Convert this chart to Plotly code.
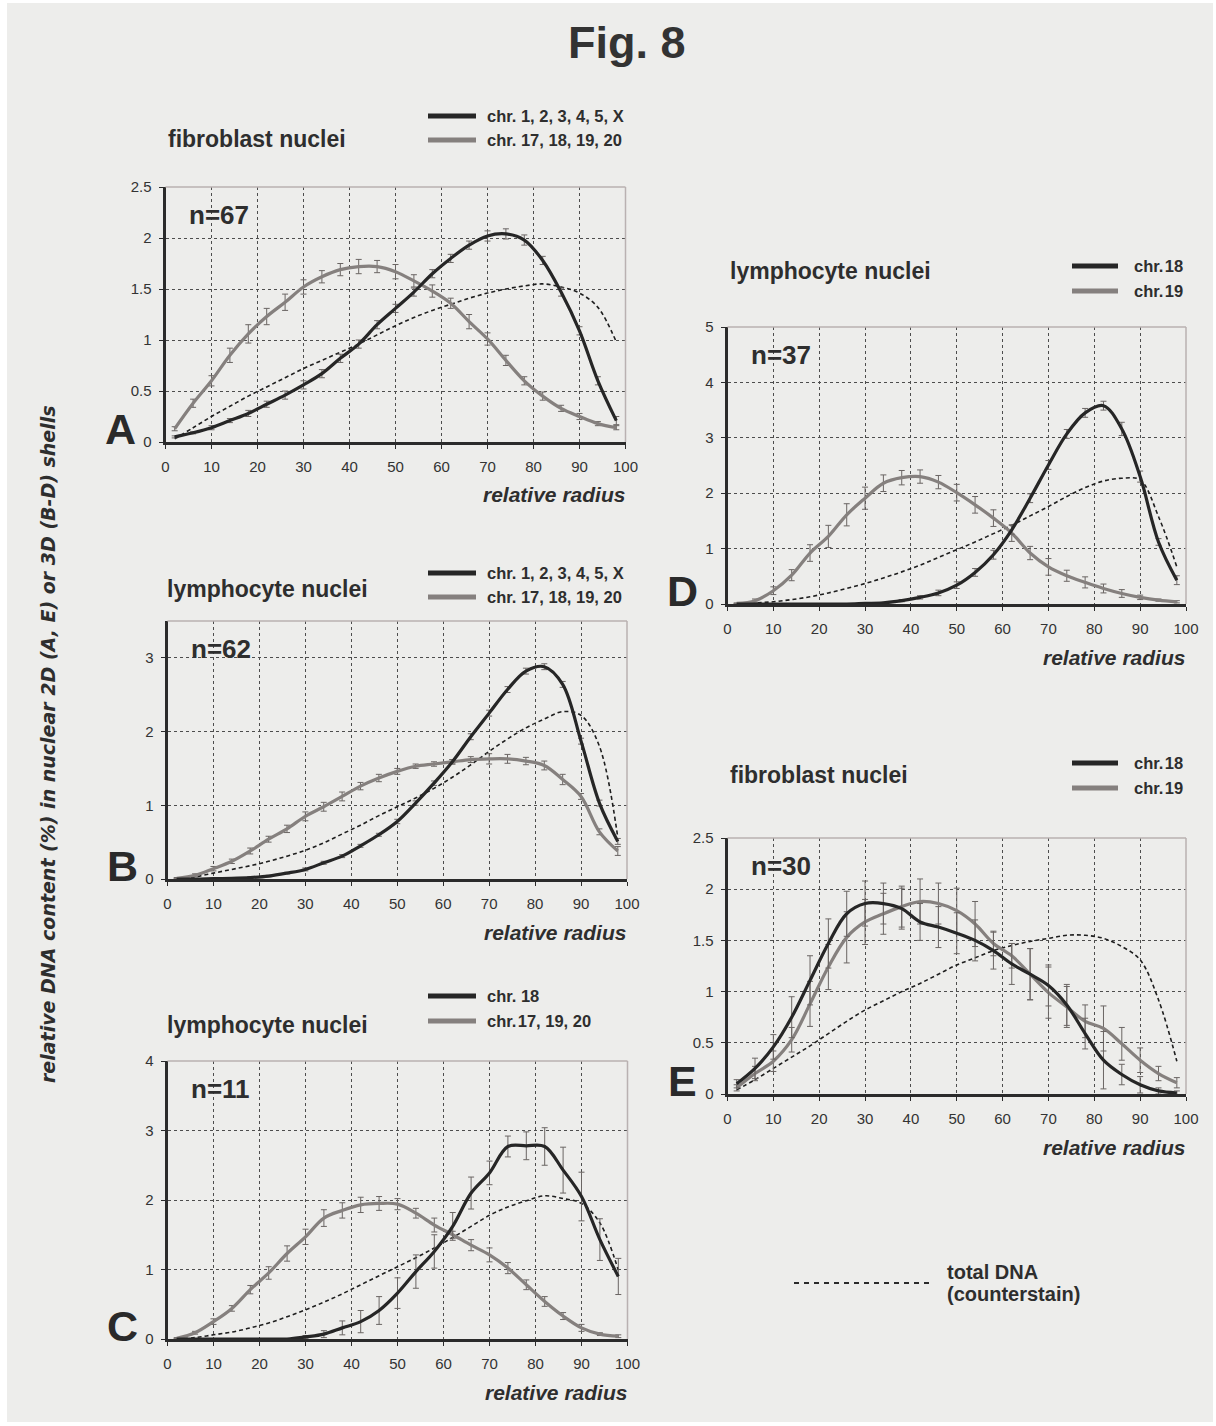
import plotly.graph_objects as go

# ---------------- data ----------------
radius = [2, 6, 10, 14, 18, 22, 26, 30, 34, 38, 42, 46, 50, 54, 58, 62, 66, 70, 74, 78, 82, 86, 90, 94, 98]
x_ticks = [0, 10, 20, 30, 40, 50, 60, 70, 80, 90, 100]

# A: fibroblast nuclei (2D)
A_black = [0.05, 0.09, 0.14, 0.21, 0.28, 0.37, 0.46, 0.56, 0.67, 0.82, 0.96, 1.15, 1.31, 1.47, 1.65, 1.80, 1.93, 2.02, 2.04, 1.98, 1.78, 1.47, 1.09, 0.60, 0.21]
A_black_err = [0.01, 0.01, 0.02, 0.02, 0.03, 0.03, 0.04, 0.04, 0.04, 0.04, 0.04, 0.04, 0.04, 0.04, 0.04, 0.04, 0.04, 0.05, 0.05, 0.05, 0.04, 0.04, 0.04, 0.04, 0.04]
A_gray = [0.13, 0.38, 0.60, 0.85, 1.06, 1.23, 1.37, 1.52, 1.62, 1.69, 1.72, 1.72, 1.67, 1.58, 1.48, 1.36, 1.18, 1.01, 0.80, 0.60, 0.45, 0.33, 0.25, 0.18, 0.14]
A_gray_err = [0.02, 0.04, 0.05, 0.07, 0.09, 0.08, 0.08, 0.07, 0.06, 0.06, 0.07, 0.06, 0.07, 0.06, 0.06, 0.05, 0.07, 0.06, 0.05, 0.04, 0.04, 0.03, 0.03, 0.02, 0.02]
A_total = [0.03, 0.14, 0.25, 0.35, 0.45, 0.54, 0.63, 0.72, 0.80, 0.88, 0.96, 1.05, 1.14, 1.22, 1.29, 1.35, 1.41, 1.46, 1.50, 1.53, 1.55, 1.52, 1.46, 1.32, 0.98]

# B: lymphocyte nuclei (3D)
B_black = [0.0, 0.0, 0.005, 0.01, 0.02, 0.04, 0.08, 0.13, 0.22, 0.31, 0.45, 0.60, 0.78, 1.03, 1.30, 1.59, 1.93, 2.25, 2.57, 2.82, 2.88, 2.64, 1.87, 1.03, 0.51]
B_black_err = [0.0, 0.0, 0.005, 0.01, 0.01, 0.01, 0.01, 0.02, 0.02, 0.02, 0.02, 0.02, 0.03, 0.03, 0.03, 0.03, 0.04, 0.04, 0.04, 0.04, 0.04, 0.04, 0.04, 0.04, 0.04]
B_gray = [0.01, 0.05, 0.14, 0.24, 0.38, 0.54, 0.68, 0.85, 0.98, 1.12, 1.26, 1.37, 1.46, 1.53, 1.56, 1.59, 1.62, 1.63, 1.63, 1.60, 1.54, 1.35, 1.12, 0.64, 0.38]
B_gray_err = [0.01, 0.02, 0.03, 0.03, 0.04, 0.04, 0.05, 0.06, 0.06, 0.06, 0.05, 0.05, 0.04, 0.03, 0.03, 0.03, 0.04, 0.07, 0.06, 0.05, 0.06, 0.07, 0.04, 0.04, 0.06]
B_total = [0.0, 0.03, 0.08, 0.13, 0.18, 0.24, 0.31, 0.39, 0.49, 0.61, 0.73, 0.86, 0.98, 1.10, 1.23, 1.38, 1.55, 1.73, 1.90, 2.05, 2.17, 2.27, 2.22, 1.80, 0.56]

# C: lymphocyte nuclei (3D), n=11
C_black = [0, 0, 0, 0, 0, 0, 0, 0.03, 0.07, 0.16, 0.25, 0.41, 0.66, 0.97, 1.26, 1.62, 2.10, 2.39, 2.77, 2.78, 2.77, 2.43, 2.05, 1.43, 0.90]
C_black_err = [0, 0, 0, 0, 0, 0, 0, 0.02, 0.05, 0.10, 0.16, 0.20, 0.22, 0.24, 0.24, 0.20, 0.23, 0.17, 0.15, 0.20, 0.27, 0.33, 0.35, 0.30, 0.26]
C_gray = [0.01, 0.09, 0.25, 0.44, 0.71, 0.95, 1.23, 1.47, 1.74, 1.85, 1.93, 1.95, 1.94, 1.81, 1.64, 1.50, 1.35, 1.21, 1.02, 0.78, 0.54, 0.33, 0.16, 0.07, 0.04]
C_gray_err = [0.01, 0.02, 0.04, 0.04, 0.06, 0.09, 0.11, 0.11, 0.12, 0.11, 0.11, 0.10, 0.08, 0.07, 0.10, 0.05, 0.08, 0.10, 0.08, 0.07, 0.07, 0.05, 0.05, 0.02, 0.02]
C_total = [0.0, 0.02, 0.06, 0.10, 0.16, 0.23, 0.32, 0.42, 0.53, 0.65, 0.78, 0.91, 1.04, 1.17, 1.31, 1.46, 1.62, 1.78, 1.90, 1.99, 2.06, 2.02, 1.95, 1.67, 0.99]

# D: lymphocyte nuclei (3D), chr 18 / 19
D_black = [0, 0, 0, 0, 0, 0, 0, 0.01, 0.02, 0.06, 0.12, 0.20, 0.34, 0.57, 0.89, 1.34, 1.91, 2.51, 3.07, 3.45, 3.58, 3.16, 2.30, 1.12, 0.43]
D_black_err = [0, 0, 0, 0, 0, 0, 0, 0, 0.01, 0.02, 0.03, 0.05, 0.06, 0.07, 0.08, 0.08, 0.08, 0.08, 0.08, 0.08, 0.08, 0.12, 0.10, 0.06, 0.08]
D_gray = [0.01, 0.06, 0.24, 0.52, 0.92, 1.22, 1.61, 1.91, 2.18, 2.28, 2.30, 2.20, 2.01, 1.79, 1.55, 1.28, 0.92, 0.67, 0.51, 0.39, 0.28, 0.19, 0.12, 0.07, 0.04]
D_gray_err = [0.01, 0.03, 0.07, 0.10, 0.15, 0.20, 0.20, 0.20, 0.15, 0.13, 0.12, 0.12, 0.15, 0.15, 0.15, 0.15, 0.12, 0.15, 0.10, 0.10, 0.08, 0.07, 0.04, 0.02, 0.02]
D_total = [0.0, 0.02, 0.04, 0.08, 0.13, 0.20, 0.28, 0.37, 0.47, 0.58, 0.70, 0.84, 0.98, 1.12, 1.27, 1.42, 1.59, 1.76, 1.94, 2.10, 2.22, 2.27, 2.24, 1.58, 0.67]

# E: fibroblast nuclei (2D), chr 18 / 19
E_black = [0.10, 0.25, 0.46, 0.75, 1.11, 1.47, 1.76, 1.86, 1.86, 1.81, 1.68, 1.63, 1.57, 1.50, 1.40, 1.27, 1.17, 1.06, 0.87, 0.59, 0.33, 0.19, 0.09, 0.03, 0.01]
E_black_err = [0.04, 0.10, 0.12, 0.20, 0.24, 0.24, 0.22, 0.22, 0.20, 0.20, 0.18, 0.20, 0.20, 0.20, 0.18, 0.20, 0.25, 0.20, 0.20, 0.15, 0.28, 0.10, 0.08, 0.03, 0.02]
E_gray = [0.06, 0.20, 0.32, 0.53, 0.88, 1.24, 1.53, 1.68, 1.76, 1.83, 1.88, 1.86, 1.79, 1.66, 1.47, 1.35, 1.17, 0.99, 0.85, 0.71, 0.64, 0.49, 0.33, 0.20, 0.11]
E_gray_err = [0.03, 0.07, 0.10, 0.12, 0.22, 0.22, 0.25, 0.22, 0.20, 0.20, 0.22, 0.20, 0.22, 0.22, 0.12, 0.12, 0.25, 0.25, 0.20, 0.16, 0.22, 0.16, 0.12, 0.07, 0.05]
E_total = [0.04, 0.14, 0.25, 0.36, 0.47, 0.59, 0.71, 0.82, 0.91, 1.00, 1.08, 1.17, 1.26, 1.33, 1.40, 1.45, 1.49, 1.52, 1.55, 1.55, 1.52, 1.44, 1.31, 0.92, 0.32]

panel_letters = ["A", "B", "C", "D", "E"]
panel_titles = ["fibroblast nuclei", "lymphocyte nuclei", "lymphocyte nuclei", "lymphocyte nuclei", "fibroblast nuclei"]
panel_n = ["n=67", "n=62", "n=11", "n=37", "n=30"]
legend_black = ["chr. 1, 2, 3, 4, 5, X", "chr. 1, 2, 3, 4, 5, X", "chr. 18", "chr.\u200a18", "chr.\u200a18"]
legend_gray = ["chr. 17, 18, 19, 20", "chr. 17, 18, 19, 20", "chr.\u200a17, 19, 20", "chr.\u200a19", "chr.\u200a19"]
y_max = [2.5, 3.5, 4, 5, 2.5]
y_dtick = [0.5, 1, 1, 1, 0.5]

# ---------------- layout geometry (pixels) ----------------
W, H = 1216, 1426
def px(x):
    return x / W
def py(y):
    return 1 - y / H

# plot area boxes: (left, right, top, bottom) in page pixels
boxes = [
    (165.5, 625.5, 187, 442),
    (167.5, 627, 621, 879),
    (167.5, 627.5, 1061, 1339),
    (727.5, 1186, 327, 604),
    (727.5, 1186, 838, 1094),
]

series = [
    (A_black, A_black_err, A_gray, A_gray_err, A_total),
    (B_black, B_black_err, B_gray, B_gray_err, B_total),
    (C_black, C_black_err, C_gray, C_gray_err, C_total),
    (D_black, D_black_err, D_gray, D_gray_err, D_total),
    (E_black, E_black_err, E_gray, E_gray_err, E_total),
]

BLACK = "#262626"
GRAY = "#85807e"
ERR = "#6a6563"
TXT = "#2e2e2e"
FONT = "Liberation Sans, Arial, Helvetica, sans-serif"
WIDE = "DejaVu Sans, Liberation Sans, sans-serif"

fig = go.Figure()
layout = dict(
    width=W, height=H,
    margin=dict(l=0, r=0, t=0, b=0, pad=0, autoexpand=False),
    paper_bgcolor="#ffffff",
    plot_bgcolor="rgba(0,0,0,0)",
    showlegend=False,
    font=dict(family=FONT, color=TXT),
)
shapes = []
annotations = []

# page background (light grey sheet with a thin white rim)
shapes.append(dict(type="rect", xref="paper", yref="paper", x0=px(7), x1=px(1213), y0=py(1422), y1=py(3),
                   fillcolor="#ededeb", line=dict(width=0), layer="below"))

for i, (l, r, t, b) in enumerate(boxes):
    k = "" if i == 0 else str(i + 1)
    xa, ya = "x" + k, "y" + k
    blk, blk_e, gry, gry_e, tot = series[i]

    fig.add_trace(go.Scatter(x=radius, y=tot, xaxis=xa, yaxis=ya, mode="lines",
                             line=dict(color="#1e1e1e", width=1.6, dash="4px,3px", shape="spline", smoothing=1.0),
                             hoverinfo="skip"))
    fig.add_trace(go.Scatter(x=radius, y=gry, xaxis=xa, yaxis=ya, mode="lines",
                             line=dict(color=GRAY, width=3.2, shape="spline", smoothing=1.0),
                             error_y=dict(type="data", array=gry_e, color=ERR, thickness=1, width=3)))
    fig.add_trace(go.Scatter(x=radius, y=blk, xaxis=xa, yaxis=ya, mode="lines",
                             line=dict(color=BLACK, width=3.2, shape="spline", smoothing=1.0),
                             error_y=dict(type="data", array=blk_e, color=ERR, thickness=1, width=3)))

    axcommon = dict(showgrid=True, gridcolor="#4d4d4d", griddash="dot", gridwidth=1,
                    showline=True, linecolor="#2b2b2b", linewidth=3, zeroline=False,
                    ticks="outside", ticklen=4, tickwidth=1, tickcolor="#2b2b2b", automargin=False,
                    tickfont=dict(size=15, color="#333333", family=FONT), fixedrange=True)
    layout["xaxis" + k] = dict(domain=[px(l), px(r)], range=[0, 100], tickmode="array", tickvals=x_ticks,
                               anchor=ya, ticklabelstandoff=5, **axcommon)
    layout["yaxis" + k] = dict(domain=[py(b), py(t)], range=[0, y_max[i]], dtick=y_dtick[i], tick0=0,
                               anchor=xa, ticklabelstandoff=4, **axcommon)

    # light top / right frame
    shapes.append(dict(type="line", xref=xa + " domain", yref=ya + " domain", x0=0, x1=1, y0=1, y1=1,
                       line=dict(color="#b9b1b1", width=1.5), layer="above"))
    shapes.append(dict(type="line", xref=xa + " domain", yref=ya + " domain", x0=1, x1=1, y0=0, y1=1,
                       line=dict(color="#b9b1b1", width=1.5), layer="above"))

    # n= label
    annotations.append(dict(xref="paper", yref="paper", x=px(l + 21), y=py(t + 28), xanchor="left", yanchor="middle",
                            text="<b>%s</b>" % panel_n[i], showarrow=False,
                            font=dict(size=26, color=TXT, family=FONT)))
    # panel letter
    annotations.append(dict(xref="paper", yref="paper", x=px(l - 45), y=py(b - 13), xanchor="center", yanchor="middle",
                            text="<b>%s</b>" % panel_letters[i], showarrow=False,
                            font=dict(size=43, color="#2a2a2a", family=FONT)))
    # x title
    annotations.append(dict(xref="paper", yref="paper", x=px(r + 1), y=py(b + 53), xanchor="right", yanchor="middle",
                            text="<b><i>relative radius</i></b>", showarrow=False,
                            font=dict(size=21, color=TXT, family=FONT)))

# titles and legends: (title_x, title_y, line_x0, line_x1, text_x, y_black, y_gray)
legend_pos = [
    (166, 139, 428, 476, 485, 116, 140),
    (165, 589, 428, 476, 485, 573, 597),
    (165, 1025, 428, 476, 485, 996, 1021),
    (728, 271, 1072, 1118, 1132, 266, 291),
    (728, 775, 1072, 1118, 1132, 763, 788),
]
for i, (tx, ty, lx0, lx1, lgx, yb, yg) in enumerate(legend_pos):
    annotations.append(dict(xref="paper", yref="paper", x=px(tx), y=py(ty), xanchor="left", yanchor="middle",
                            text="<b>%s</b>" % panel_titles[i], showarrow=False,
                            font=dict(size=23, color=TXT, family=FONT)))
    shapes.append(dict(type="line", xref="paper", yref="paper", x0=px(lx0), x1=px(lx1), y0=py(yb), y1=py(yb),
                       line=dict(color=BLACK, width=5)))
    shapes.append(dict(type="line", xref="paper", yref="paper", x0=px(lx0), x1=px(lx1), y0=py(yg), y1=py(yg),
                       line=dict(color=GRAY, width=5)))
    annotations.append(dict(xref="paper", yref="paper", x=px(lgx), y=py(yb), xanchor="left", yanchor="middle",
                            text="<b>%s</b>" % legend_black[i], showarrow=False,
                            font=dict(size=16.5, color=TXT, family=FONT)))
    annotations.append(dict(xref="paper", yref="paper", x=px(lgx), y=py(yg), xanchor="left", yanchor="middle",
                            text="<b>%s</b>" % legend_gray[i], showarrow=False,
                            font=dict(size=16.5, color=TXT, family=FONT)))

# total DNA legend
shapes.append(dict(type="line", xref="paper", yref="paper", x0=px(794), x1=px(932), y0=py(1283), y1=py(1283),
                   line=dict(color="#2a2a2a", width=2, dash="5px,5px")))
annotations.append(dict(xref="paper", yref="paper", x=px(945), y=py(1272), xanchor="left", yanchor="middle",
                        text="<b>total DNA</b>", showarrow=False, font=dict(size=20, color=TXT, family=FONT)))
annotations.append(dict(xref="paper", yref="paper", x=px(945), y=py(1294), xanchor="left", yanchor="middle",
                        text="<b>(counterstain)</b>", showarrow=False, font=dict(size=20, color=TXT, family=FONT)))

# figure title
annotations.append(dict(xref="paper", yref="paper", x=px(627), y=py(42), xanchor="center", yanchor="middle",
                        text="<b>Fig. 8</b>", showarrow=False, font=dict(size=45, color="#333333", family=FONT)))
# shared y title
annotations.append(dict(xref="paper", yref="paper", x=px(48), y=py(744), xanchor="center", yanchor="middle",
                        textangle=-90, text="<b><i>relative DNA content (%) in nuclear 2D (A, E) or 3D (B-D) shells</i></b>",
                        showarrow=False, font=dict(size=19, color=TXT, family=WIDE)))

layout["shapes"] = shapes
layout["annotations"] = annotations
fig.update_layout(**layout)
fig.write_html("out.html")
